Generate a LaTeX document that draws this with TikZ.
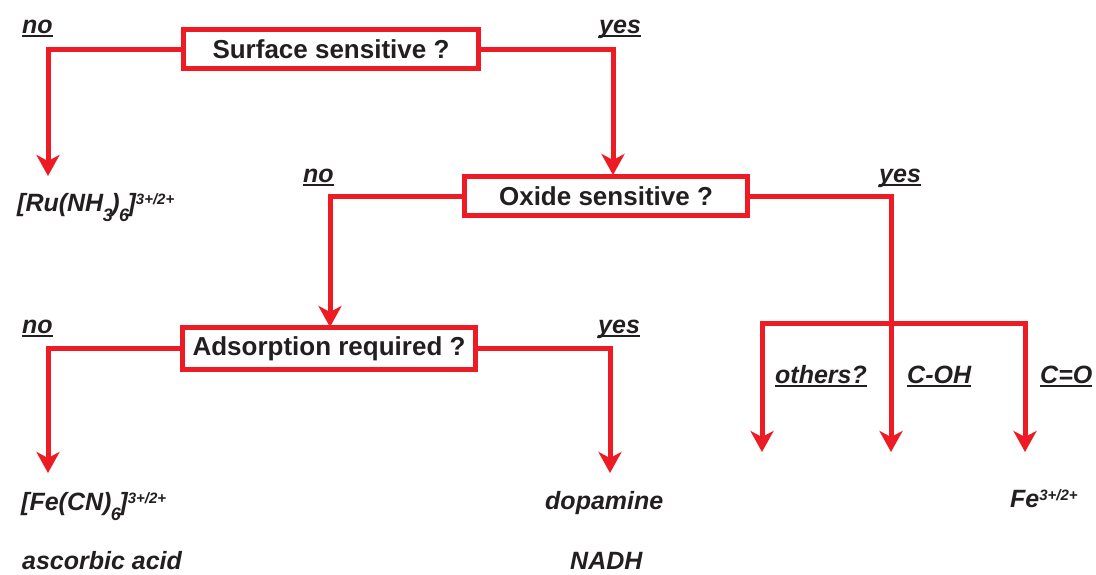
\documentclass[tikz,border=0pt]{standalone}
\usepackage{fontspec}
\setmainfont{Liberation Sans}
\usetikzlibrary{arrows.meta}
\definecolor{fred}{RGB}{237,28,36}
\definecolor{ftext}{RGB}{35,31,32}
\newcommand\ulab[1]{\setbox0\hbox{#1}\rlap{\rule[-3.5pt]{\wd0}{1.6pt}}\box0}
\newcommand\sbx[1]{\kern-0.5pt\raisebox{-10pt}{\fontsize{18}{18}\selectfont #1}\kern-1.5pt}
\newcommand\spx[1]{\raisebox{6.5pt}{\fontsize{15}{15}\selectfont #1}}
\begin{document}
\begin{tikzpicture}[x=1pt,y=-1pt,
  qbox/.style={draw=fred, line width=5pt, inner sep=0pt, font=\fontsize{26}{30}\selectfont\bfseries, text=ftext},
  lab/.style={anchor=base west, inner sep=0pt, font=\fontsize{25}{30}\selectfont\bfseries\itshape, text=ftext},
  arr/.style={draw=fred, line width=5pt, line join=miter, -{Stealth[length=21pt,width=23pt,inset=6pt]}},
  ]
\useasboundingbox (0,0) rectangle (1096,574);

% question boxes
\node[qbox, minimum width=295pt, minimum height=39pt] (s) at (331,49) {Surface sensitive ?};
\node[qbox, minimum width=283pt, minimum height=39pt] (o) at (606,196) {Oxide sensitive ?};
\node[qbox, minimum width=293pt, minimum height=42pt] (a) at (329,348.5) {Adsorption required ?};

% branch labels
\node[lab] (n1) at (22,33) {\ulab{no}};
\node[lab] (y1) at (599,33) {\ulab{yes}};
\node[lab] (n2) at (303,182) {\ulab{no}};
\node[lab] (y2) at (879,182) {\ulab{yes}};
\node[lab] (n3) at (22,333) {\ulab{no}};
\node[lab] (y3) at (598,333) {\ulab{yes}};
\node[lab] (oth) at (775,383) {\ulab{others?}};
\node[lab] (coh) at (907,383) {\ulab{C-OH}};
\node[lab] (cdo) at (1040,383) {\ulab{C=O}};

% outcomes
\node[lab] (ru) at (17,211) {[Ru(NH\sbx{3})\sbx{6}]\spx{3+/2+}};
\node[lab] (fe) at (21,510) {[Fe(CN)\sbx{6}]\spx{3+/2+}};
\node[lab] (dop) at (545,509) {dopamine};
\node[lab] (fe2) at (1010,507) {Fe\spx{3+/2+}};
\node[lab] (asc) at (22,569) {ascorbic acid};
\node[lab] (nadh) at (570,569) {NADH};

% arrow end points
\coordinate (t1) at (48,176);
\coordinate (t2) at (613,175);
\coordinate (t3) at (330,327);
\coordinate (br) at (891,323);
\coordinate (t4) at (762,452);
\coordinate (t5) at (891,452);
\coordinate (t6) at (1025,452);
\coordinate (t7) at (48,473);
\coordinate (t8) at (610,473);

% connectors
\draw[arr] (s.west) -| (t1);
\draw[arr] (s.east) -| (t2);
\draw[arr] (o.west) -| (t3);
\draw[arr] (o.east) -| (t5);
\draw[arr] (br) -| (t4);
\draw[arr] (br) -| (t6);
\draw[arr] (a.west) -| (t7);
\draw[arr] (a.east) -| (t8);
\end{tikzpicture}
\end{document}
